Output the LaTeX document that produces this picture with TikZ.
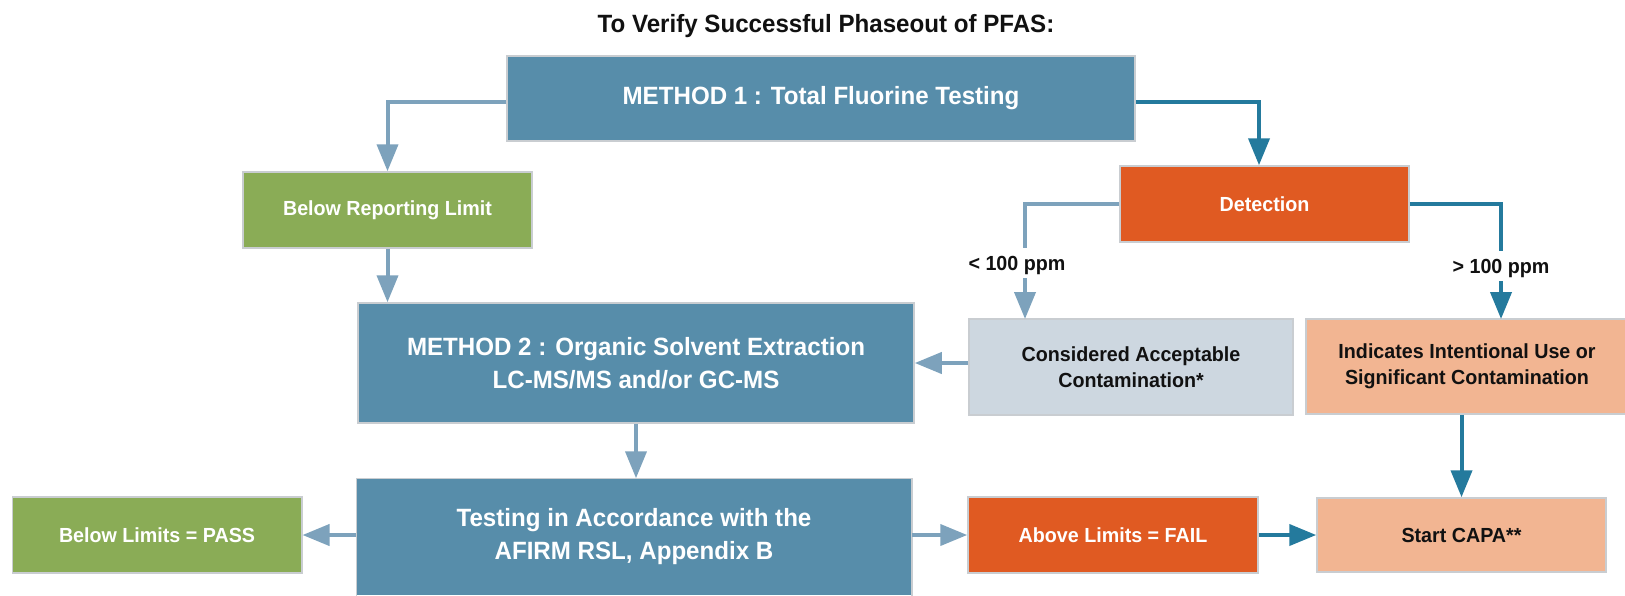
\documentclass[tikz,border=0pt]{standalone}
\usepackage{fontspec}
\setmainfont{Liberation Sans}[FakeStretch=0.965]
\usetikzlibrary{arrows.meta}
\definecolor{steel}{HTML}{578DAA}
\definecolor{leaf}{HTML}{8AAC56}
\definecolor{rust}{HTML}{E05A22}
\definecolor{mist}{HTML}{CDD7E0}
\definecolor{peach}{HTML}{F2B592}
\definecolor{boxline}{HTML}{C9CDD1}
\definecolor{arrowlite}{HTML}{7DA2BC}
\definecolor{arrowdark}{HTML}{247A9D}
\definecolor{ink}{HTML}{111111}
\begin{document}
\begin{tikzpicture}[x=0.5pt,y=-0.5pt,
  box/.style={draw=boxline, line width=0.75pt, inner sep=0pt, align=center},
  big/.style={font=\fontsize{12.5}{16.5}\selectfont\bfseries},
  small/.style={font=\fontsize{10.2}{13}\selectfont\bfseries},
  lite/.style={draw=arrowlite, line width=2pt, -{Triangle[length=13.5pt,width=10.5pt]}},
  dark/.style={draw=arrowdark, line width=2pt, -{Triangle[length=13.5pt,width=10.5pt]}},
  lbl/.style={fill=white, inner xsep=1pt, inner ysep=3.9pt, text height=7.3pt, text depth=0pt, text=ink, font=\fontsize{10.2}{13}\selectfont\bfseries}]
\useasboundingbox (0,0) rectangle (1625,595);

\node[anchor=base, text=ink, font=\fontsize{12.5}{15}\selectfont\bfseries] (title) at (826,32) {To Verify Successful Phaseout of PFAS:};

\node[box, big, fill=steel, text=white, minimum width=314pt, minimum height=42.5pt] (m1) at (821,98.5) {METHOD 1 : Total Fluorine Testing};
\node[box, small, fill=leaf, text=white, minimum width=144.5pt, minimum height=38pt] (br) at (387.5,210) {Below Reporting Limit};
\node[box, small, fill=rust, text=white, minimum width=144.5pt, minimum height=38pt] (det) at (1264.5,204) {Detection};
\node[box, big, fill=steel, text=white, minimum width=278pt, minimum height=60pt] (m2) at (636,363) {METHOD 2 : Organic Solvent Extraction\\LC-MS/MS and/or GC-MS};
\node[box, small, fill=mist, text=ink, minimum width=162pt, minimum height=48pt] (cons) at (1131,367) {Considered Acceptable\\Contamination*};
\node[box, small, fill=peach, text=ink, minimum width=161pt, minimum height=47.5pt] (ind) at (1467,366.5) {Indicates Intentional Use or\\Significant Contamination};
\node[box, big, draw=none, fill=steel, text=white, minimum width=277pt, minimum height=58pt] (tst) at (634,537) {Testing in Accordance with the\\AFIRM RSL, Appendix B};
\draw[boxline, line width=0.75pt] (tst.south west) -- (tst.north west) -- (tst.north east) -- (tst.south east);
\node[box, small, fill=leaf, text=white, minimum width=144.75pt, minimum height=38pt] (pass) at (157,535) {Below Limits = PASS};
\node[box, small, fill=rust, text=white, minimum width=145pt, minimum height=38pt] (above) at (1113,535) {Above Limits = FAIL};
\node[box, small, fill=peach, text=ink, minimum width=144.5pt, minimum height=37pt] (capa) at (1461.5,535) {Start CAPA**};

\coordinate (lt) at (1025,319);
\coordinate (rt) at (1501,319);

\draw[lite] ([yshift=-1.5pt]m1.west) -| (br.north);
\draw[dark] ([yshift=-1.5pt]m1.east) -| ([xshift=-2.75pt]det.north);
\draw[lite] (br.south) -- (br.south |- m2.north);
\draw[lite] (det.west) -| (lt);
\draw[dark] (det.east) -| (rt);
\draw[lite] (cons.west |- m2.east) -- (m2.east);
\draw[lite] (m2.south) -- (m2.south |- tst.north);
\draw[lite] (tst.west |- pass.east) -- (pass.east);
\draw[lite] (tst.east |- above.west) -- (above.west);
\draw[dark] (capa.north |- ind.south) -- (capa.north);
\draw[dark] (above.east) -- (above.east -| capa.west);

\node[lbl] (lowlbl) at (1017,263) {< 100 ppm};
\node[lbl] (highlbl) at (1501,266) {> 100 ppm};
\end{tikzpicture}
\end{document}
